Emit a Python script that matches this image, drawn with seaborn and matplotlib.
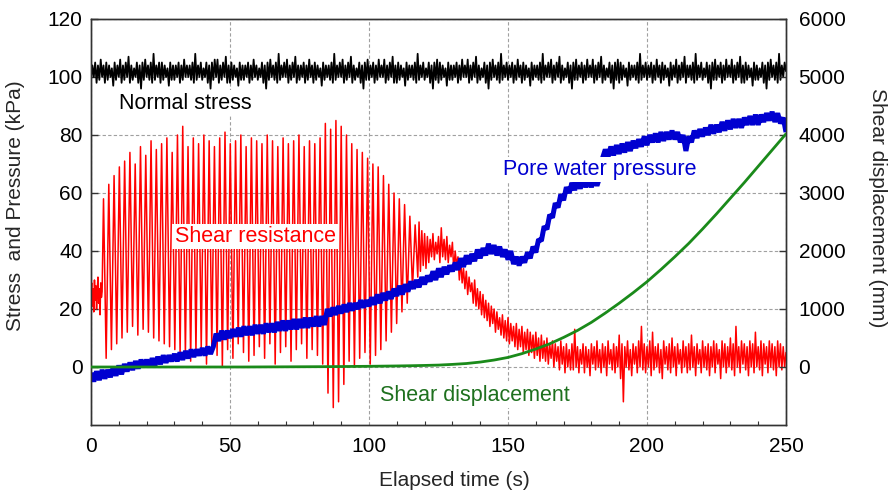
import numpy as np
import pandas as pd
import matplotlib
matplotlib.use("Agg")
import matplotlib.pyplot as plt
import seaborn as sns

# ---------------- data ----------------
# Normal stress (kPa), sampled every 0.5 s from 0 to 250 s
normal_stress = [
    99,104,100,105,98,104,99,106,100,104,
    98,105,99,104,100,103,97,105,99,104,
    100,106,98,104,99,105,100,107,98,104,
    99,103,100,105,98,104,96,105,99,106,
    100,104,99,105,98,108,99,104,100,105,
    98,105,99,104,100,103,97,105,99,104,
    99,104,100,105,98,104,99,106,100,104,
    100,104,99,105,98,108,99,104,100,105,
    99,103,100,105,98,104,96,105,99,106,
    100,106,98,104,99,105,100,107,98,104,
    98,105,99,104,100,103,97,105,99,104,
    99,104,100,105,98,104,99,106,100,104,
    99,103,100,105,98,104,96,105,99,106,
    100,104,99,105,98,108,99,104,100,105,
    100,106,98,104,99,105,100,107,98,104,
    99,104,100,105,98,104,99,106,100,104,
    98,105,99,104,100,103,97,105,99,104,
    100,104,99,105,98,108,99,104,100,105,
    100,106,98,104,99,105,100,107,98,104,
    99,103,100,105,98,104,96,105,99,106,
    99,104,100,105,98,104,99,106,100,104,
    100,106,98,104,99,105,100,107,98,104,
    98,105,99,104,100,103,97,105,99,104,
    100,104,99,105,98,108,99,104,100,105,
    99,103,100,105,98,104,96,105,99,106,
    98,105,99,104,100,103,97,105,99,104,
    99,104,100,105,98,104,99,106,100,104,
    100,106,98,104,99,105,100,107,98,104,
    99,103,100,105,98,104,96,105,99,106,
    100,104,99,105,98,108,99,104,100,105,
    99,104,100,105,98,104,99,106,100,104,
    98,105,99,104,100,103,97,105,99,104,
    100,104,99,105,98,108,99,104,100,105,
    100,106,98,104,99,105,100,107,98,104,
    99,103,100,105,98,104,96,105,99,106,
    99,104,100,105,98,104,99,106,100,104,
    100,106,98,104,99,105,100,107,98,104,
    99,103,100,105,98,104,96,105,99,106,
    98,105,99,104,100,103,97,105,99,104,
    100,104,99,105,98,108,99,104,100,105,
    99,104,100,105,98,104,99,106,100,104,
    98,105,99,104,100,103,97,105,99,104,
    100,106,98,104,99,105,100,107,98,104,
    100,104,99,105,98,108,99,104,100,105,
    99,103,100,105,98,104,96,105,99,106,
    99,104,100,105,98,104,99,106,100,104,
    100,106,98,104,99,105,100,107,98,104,
    98,105,99,104,100,103,97,105,99,104,
    99,103,100,105,98,104,96,105,99,106,
    100,104,99,105,98,108,99,104,100,105,
    102]

# Shear resistance (kPa)
# before cyclic loading, every 0.25 s from 0 s
shear_pre = [25,29,21,27,19,30,23,28,20,26,31,22,27,18,29,24,26]
# cyclic loading: peak and trough of each cycle (period ~1.9 s, from 4.5 s)
shear_peaks = [58,63,66,69,
               71,74,70,76,73,78,75,77,79,74,80,83,
               76,79,77,80,78,76,79,81,77,78,80,76,79,78,77,80,78,76,79,77,78,80,76,78,77,
               79,84,82,85,83,
               80,77,75,74,72,70,69,
               66,63,60,58,56,52,49]
shear_troughs = [3,6,8,10,
                 12,14,11,13,12,10,9,8,7,6,5,4,
                 2,5,6,1,7,4,0,6,3,8,5,2,4,7,3,8,1,5,7,2,6,8,3,6,4,
                 1,-9,-14,-12,-6,
                 2,0,3,5,1,4,6,
                 9,12,15,19,22,27,31]
# after cyclic phase, every 0.5 s from 118 s
shear_post = [
    50,33,47,35,46,34,45,36,44,38,
    46,37,43,39,45,36,48,38,44,37,
    45,36,42,38,43,33,40,35,38,30,
    37,29,34,27,33,25,31,26,29,22,
    30,21,27,20,26,18,25,17,23,16,
    22,14,21,15,20,12,19,13,17,11,
    18,10,16,9,17,8,15,9,14,7,
    15,6,13,7,14,5,12,6,13,4,
    12,5,11,3,12,4,10,2,11,3,
    9,2,10,1,8,3,9,0,8,2,
    7,-1,9,1,7,-2,8,0,6,-1,
    8,-1,13,0,7,-2,6,1,8,-2,
    7,0,6,-3,8,1,7,-1,9,0,
    6,-2,8,0,7,-3,9,1,6,-1,
    8,-2,7,0,11,-4,8,-12,7,0,
    9,-1,6,-3,8,1,7,-2,9,0,
    14,-1,8,-2,7,0,9,-3,12,-1,
    7,0,8,-2,6,-4,9,1,7,-1,
    8,-2,10,0,7,-3,8,1,6,-2,
    9,0,7,-2,8,-1,11,0,7,-3,
    8,1,6,-2,9,0,7,-1,8,-3,
    7,0,9,-2,8,1,6,-4,9,0,
    8,-2,7,0,10,-1,8,-3,14,0,
    7,-2,9,1,8,-1,7,-3,9,0,
    8,-2,12,0,7,-1,9,-3,8,1,
    7,-2,9,0,8,-1,7,-3,9,0,
    8,-1,7,0,5]

# Pore water pressure (kPa), every 1 s from 0 to 250 s
pore_pressure = [
    -2,-5,-1.5,-4.5,-1,-4,-1,-3.5,0,-3,
    0.5,-2.5,1,-1.5,1.5,-1,2,-0.5,2.5,0,
    2.5,0,3,0.5,3.5,1,4,1.5,4,2,
    4.5,2,5,2.5,5.5,3,6,3.5,6,4,
    6.5,4,7,4.5,7,11.5,9,12.5,9.5,12.5,
    10,13,10.5,13.5,10.5,14,11,14,11,14.5,
    11.5,14.5,11.5,15,12,15,12,15.5,12.5,16,
    12.5,16,13,16.5,13,16.5,13.5,17,13.5,17,
    14,17.5,14,17.5,14.5,20,17.5,20.5,18,21,
    18.5,21.5,19,22,19.5,22,20,23,20.5,23,
    21,24,21.5,25,22,25.5,23,26,23.5,27,
    24.5,28,25,28.5,26,29.5,27,30,27.5,31,
    28.5,31.5,29.5,33,30,34,31,34.5,32,35,
    33,36,33.5,37.5,34.5,38.5,35.5,39,36.5,40.5,
    37.5,41,38.5,42.5,39,42,38.5,41.5,38,40.5,
    37,40,35.5,38,35,38,36,39.5,37.5,41.5,
    39.5,44,43.5,48.5,47.5,52.5,51.5,56.5,55,59.5,
    57.5,62,60,63.5,61,64.5,61.5,65,62,65,
    62,65.5,62.5,65.5,72,75,72.5,76,73,76.5,
    73.5,77,74,77.5,74.5,78,75.5,78.5,76,79.5,
    76.5,80,77.5,80.5,77.5,81,78,81,78.5,81.5,
    78.5,81,77.5,80,74.5,79.5,77.5,81.5,79,82,
    79.5,82.5,80,83.5,80.5,83.5,81,84.5,81.5,85,
    82,85.5,82.5,85.5,82.5,86,83.5,86.5,83.5,87,
    83.5,87,84.5,87.5,85,88,84.5,87.5,84,86,
    81]

# Shear displacement (mm), every 5 s from 0 to 250 s
shear_disp = [0,0,0,0,0,0,0,0,0,0,0,0,1,2,3,4,5,6,8,10,
              12,15,18,22,27,33,45,60,85,120,165,230,310,400,510,630,770,930,
              1100,1280,1470,1680,1900,2130,2380,2640,2910,3180,3460,3740,4020]

# ---------------- assemble data frames ----------------
df_ns = pd.DataFrame({"t": np.arange(len(normal_stress)) * 0.5, "v": normal_stress})

t_pre = np.arange(len(shear_pre)) * 0.25
t_cyc = 4.5 + 0.95 * np.arange(2 * len(shear_peaks))
v_cyc = np.column_stack((shear_peaks, shear_troughs)).ravel()
t_post = 118 + 0.5 * np.arange(len(shear_post))
df_sr = pd.DataFrame({"t": np.concatenate([t_pre, t_cyc, t_post]),
                      "v": np.concatenate([shear_pre, v_cyc, shear_post])})

df_pw = pd.DataFrame({"t": np.arange(len(pore_pressure)) * 1.0, "v": pore_pressure})
df_sd = pd.DataFrame({"t": np.arange(len(shear_disp)) * 5.0, "v": shear_disp})

# ---------------- plotting ----------------
sns.set_theme(style="white")
plt.rcParams["font.family"] = ["Liberation Sans", "DejaVu Sans"]

FS = 15
fig = plt.figure(figsize=(8.89, 4.97), dpi=100)
ax = fig.add_axes([91/889, 1-425/497, 695/889, 406/497])
ax2 = ax.twinx()

RED = "#ff0000"
BLUE = "#0000d0"
GREEN = "#1a8a1a"

sns.lineplot(data=df_ns, x="t", y="v", ax=ax, color="black", linewidth=1.3,
             estimator=None, sort=False, zorder=3)
sns.lineplot(data=df_sr, x="t", y="v", ax=ax, color=RED, linewidth=1.1,
             estimator=None, sort=False, zorder=3)
sns.lineplot(data=df_pw, x="t", y="v", ax=ax, color=BLUE, linewidth=3.6,
             estimator=None, sort=False, zorder=4, solid_joinstyle="bevel",
             solid_capstyle="butt")
sns.lineplot(data=df_sd, x="t", y="v", ax=ax2, color=GREEN, linewidth=2.0,
             estimator=None, sort=False, zorder=3)

ax.set_xlim(0, 250)
ax.set_ylim(-20, 120)
ax2.set_ylim(-1000, 6000)
ax.set_xticks([0, 50, 100, 150, 200, 250])
ax.set_xticks(np.arange(0, 251, 10), minor=True)
ax.set_yticks([0, 20, 40, 60, 80, 100, 120])
ax2.set_yticks([0, 1000, 2000, 3000, 4000, 5000, 6000])

ax.grid(True, which="major", color="#a0a0a0", linestyle=(0, (3, 2)), linewidth=0.8)
ax.set_axisbelow(True)

for a in (ax, ax2):
    for s in a.spines.values():
        s.set_color("#333333")
        s.set_linewidth(1.0)
ax.tick_params(axis="x", which="major", direction="in", length=6, width=1,
               labelsize=FS, pad=9, colors="#333333", labelcolor="black")
ax.tick_params(axis="x", which="minor", direction="in", length=3, width=0.8,
               bottom=True, colors="#333333")
ax.tick_params(axis="y", which="major", direction="in", length=5, width=1,
               labelsize=FS, pad=6, left=True, colors="#333333", labelcolor="black")
ax2.tick_params(axis="y", which="major", direction="in", length=5, width=1,
                labelsize=FS, pad=9, right=True, colors="#333333", labelcolor="black")

ax.set_xlabel("Elapsed time (s)", fontsize=FS)
ax.set_ylabel("Stress  and Pressure (kPa)", fontsize=FS)
ax2.set_ylabel("Shear displacement (mm)", fontsize=FS, rotation=270)
for lab in (ax.xaxis.label, ax.yaxis.label, ax2.yaxis.label):
    lab.set_va("center")
    lab.set_ha("center")
    lab.set_rotation_mode("anchor")
ax.xaxis.set_label_coords((454 - 91) / 695, (425 - 481) / 406)
ax.yaxis.set_label_coords((16 - 91) / 695, (425 - 206) / 406)
ax2.yaxis.set_label_coords((877 - 91) / 695, (425 - 208) / 406)

box = dict(facecolor="white", edgecolor="none", pad=1.5)
tr = ax.transData
ax2.text(34, 91, "Normal stress", color="black", fontsize=15.5, ha="center",
         va="center", transform=tr, bbox=box, zorder=10)
ax2.text(59, 45, "Shear resistance", color=RED, fontsize=15.5, ha="center",
         va="center", transform=tr, bbox=box, zorder=10)
ax2.text(183, 68, "Pore water pressure", color=BLUE, fontsize=15.5, ha="center",
         va="center", transform=tr, bbox=box, zorder=10)
ax2.text(138, -9.7, "Shear displacement", color="#1e701e", fontsize=15.5,
         ha="center", va="center", transform=tr, bbox=box, zorder=10)

fig.savefig("out.png", dpi=100)
